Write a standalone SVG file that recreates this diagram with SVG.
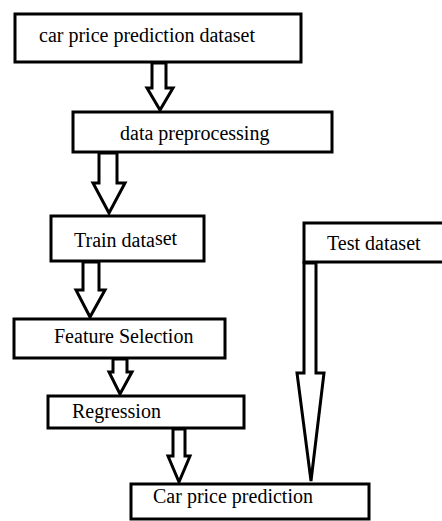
<svg xmlns="http://www.w3.org/2000/svg" width="442" height="521" viewBox="0 0 442 521">
<style>
.box{fill:#fff;stroke:#000;stroke-width:3}
.arr{fill:#fff;stroke:#000;stroke-width:3;stroke-linejoin:miter}
text{font-family:"Liberation Serif","Times New Roman",serif;font-size:20px;fill:#000}
</style>
<rect width="442" height="521" fill="#fff"/>
<g id="connectors">
<polygon class="arr" points="152,63 166,63 166,88 173,88 160,110 147,88 152,88"/>
<polygon class="arr" points="99,153 117,153 117,183 125,183 109,213 93,183 99,183"/>
<polygon class="arr" points="83,262 99,262 99,290 105,290 90,317 76,290 83,290"/>
<polygon class="arr" points="113,359 127,359 127,372 132,372 120,394 109,372 113,372"/>
<polygon class="arr" points="173,429 185,429 185,456 190,456 179,482 168,456 173,456"/>
<polygon class="arr" points="304,263 316,263 316,373 324,373 311,481 297,373 304,373"/>
</g>
<g id="n1"><rect class="box" x="15" y="14" width="286" height="48"/><text x="39" y="42">car price prediction dataset</text></g>
<g id="n2"><rect class="box" x="73" y="112" width="259" height="40"/><text x="120" y="140">data preprocessing</text></g>
<g id="n3"><rect class="box" x="51" y="216" width="153" height="45"/><text x="74" y="247">Train data<tspan dy="-2">set</tspan></text></g>
<g id="n4"><rect class="box" x="14" y="319" width="211" height="39"/><text x="54" y="343">Feature Selection</text></g>
<g id="n5"><rect class="box" x="48" y="396" width="196" height="32"/><text x="72" y="418">Regression</text></g>
<g id="n6"><rect class="box" x="131" y="484" width="238" height="35"/><text x="153" y="503">Car price prediction</text></g>
<g id="n7"><rect class="box" x="304" y="223" width="145" height="39"/><text x="327" y="250">Test dataset</text></g>
</svg>
